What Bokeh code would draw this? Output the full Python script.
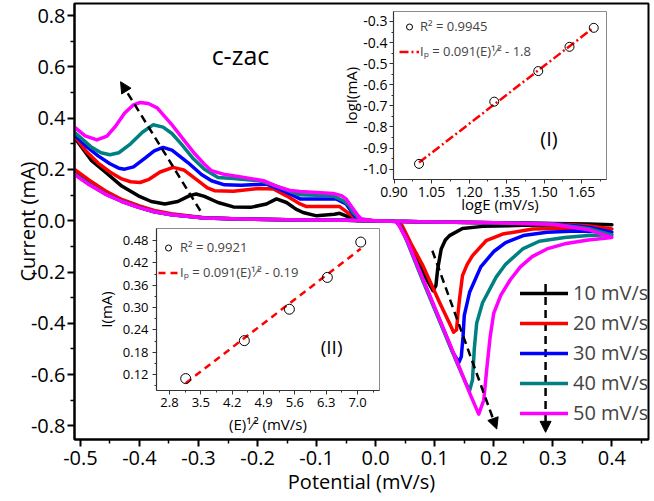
import numpy as np
from bokeh.plotting import figure
from bokeh.models import (Range1d, Legend, LegendItem, Arrow, NormalHead, Label,
                          GridBox, FixedTicker, NumeralTickFormatter)
from bokeh.embed import file_html
from bokeh.resources import INLINE

FONT = "Open Sans"

# ---------------- main CV data ----------------
scan_labels = ["10 mV/s", "20 mV/s", "30 mV/s", "40 mV/s", "50 mV/s"]
scan_colors = ["#000000", "#ff0000", "#0000ff", "#008080", "#ff00ff"]

# forward (lower) branches, left -> right, through the cathodic peak
fwd10_x = [-0.52, -0.51, -0.485, -0.458, -0.43, -0.402, -0.375, -0.346, -0.29, -0.228, -0.15, -0.05, 0.0, 0.03,
           0.038, 0.045, 0.063, 0.086, 0.097, 0.102, 0.105, 0.111, 0.118, 0.125, 0.147, 0.181, 0.25, 0.33, 0.40]
fwd10_y = [0.195, 0.185, 0.145, 0.107, 0.077, 0.054, 0.036, 0.024, 0.011, 0.007, 0.004, 0.002, 0.0, -0.002,
           -0.006, -0.03, -0.11, -0.227, -0.273, -0.253, -0.188, -0.110, -0.075, -0.058, -0.030, -0.022, -0.018, -0.016, -0.016]
fwd20_x = [-0.52, -0.51, -0.485, -0.458, -0.43, -0.40, -0.375, -0.346, -0.29, -0.228, -0.15, -0.05, 0.0, 0.03,
           0.038, 0.045, 0.06, 0.08, 0.108, 0.125, 0.132, 0.137, 0.139, 0.142, 0.147, 0.155, 0.164, 0.187, 0.215, 0.266, 0.33, 0.40]
fwd20_y = [0.21, 0.20, 0.158, 0.117, 0.083, 0.058, 0.04, 0.027, 0.012, 0.007, 0.004, 0.002, 0.0, -0.002,
           -0.004, -0.02, -0.09, -0.175, -0.318, -0.40, -0.435, -0.425, -0.37, -0.305, -0.214, -0.17, -0.136, -0.078, -0.052, -0.032, -0.028, -0.032]
fwd30_x = [-0.52, -0.51, -0.485, -0.458, -0.43, -0.402, -0.375, -0.346, -0.29, -0.228, -0.15, -0.05, 0.0, 0.03,
           0.036, 0.042, 0.052, 0.08, 0.108, 0.13, 0.141, 0.145, 0.148, 0.150, 0.159, 0.178, 0.20, 0.22, 0.25, 0.29, 0.34, 0.40]
fwd30_y = [0.192, 0.182, 0.142, 0.105, 0.076, 0.053, 0.035, 0.023, 0.0105, 0.0066, 0.004, 0.002, 0.0, -0.002,
           -0.004, -0.025, -0.07, -0.23, -0.385, -0.51, -0.552, -0.53, -0.45, -0.37, -0.279, -0.18, -0.12, -0.085, -0.058, -0.045, -0.04, -0.045]
fwd40_x = [-0.52, -0.51, -0.485, -0.458, -0.43, -0.402, -0.375, -0.346, -0.29, -0.228, -0.15, -0.05, 0.0, 0.03,
           0.035, 0.041, 0.052, 0.08, 0.108, 0.136, 0.152, 0.159, 0.164, 0.167, 0.171, 0.181, 0.204, 0.22, 0.249, 0.277, 0.32, 0.36, 0.40]
fwd40_y = [0.192, 0.182, 0.142, 0.105, 0.076, 0.053, 0.035, 0.023, 0.0105, 0.0066, 0.004, 0.002, 0.0, -0.002,
           -0.004, -0.02, -0.075, -0.235, -0.39, -0.545, -0.63, -0.663, -0.62, -0.50, -0.40, -0.32, -0.22, -0.17, -0.11, -0.08, -0.065, -0.058, -0.055]
fwd50_x = [-0.52, -0.51, -0.485, -0.458, -0.43, -0.402, -0.375, -0.346, -0.29, -0.228, -0.15, -0.05, 0.0, 0.03,
           0.034, 0.04, 0.052, 0.08, 0.108, 0.136, 0.161, 0.1745, 0.183, 0.188, 0.194, 0.200, 0.212, 0.228, 0.245, 0.265, 0.29, 0.32, 0.36, 0.40]
fwd50_y = [0.19, 0.18, 0.14, 0.104, 0.075, 0.052, 0.035, 0.023, 0.0105, 0.0066, 0.004, 0.002, 0.0, -0.002,
           -0.003, -0.02, -0.071, -0.227, -0.383, -0.539, -0.682, -0.754, -0.70, -0.58, -0.45, -0.36, -0.29, -0.23, -0.18, -0.14, -0.11, -0.09, -0.075, -0.065]

# reverse (upper) branches, written left -> right
rev10_x = [-0.52, -0.51, -0.481, -0.458, -0.43, -0.402, -0.38, -0.357, -0.335, -0.315, -0.304, -0.29, -0.267, -0.241, -0.21,
           -0.185, -0.168, -0.151, -0.135, -0.123, -0.10, -0.07, -0.061, -0.047, -0.033, 0.0, 0.05, 0.1, 0.2, 0.3, 0.36, 0.40]
rev10_y = [0.34, 0.325, 0.234, 0.19, 0.135, 0.097, 0.075, 0.065, 0.075, 0.098, 0.104, 0.095, 0.071, 0.054, 0.053,
           0.065, 0.085, 0.071, 0.045, 0.032, 0.019, 0.025, 0.029, 0.016, 0.0, -0.001, -0.003, -0.005, -0.008, -0.011, -0.013, -0.016]
rev20_x = [-0.52, -0.51, -0.49, -0.47, -0.45, -0.43, -0.415, -0.399, -0.385, -0.365, -0.343, -0.325, -0.301, -0.285, -0.273,
           -0.241, -0.196, -0.173, -0.151, -0.13, -0.117, -0.061, -0.044, -0.03, 0.0, 0.05, 0.1, 0.2, 0.3, 0.36, 0.40]
rev20_y = [0.345, 0.33, 0.27, 0.225, 0.19, 0.163, 0.152, 0.149, 0.16, 0.19, 0.208, 0.198, 0.156, 0.128, 0.117,
           0.115, 0.126, 0.124, 0.097, 0.068, 0.055, 0.055, 0.026, 0.004, -0.001, -0.003, -0.005, -0.008, -0.012, -0.02, -0.032]
rev30_x = [-0.52, -0.51, -0.49, -0.47, -0.45, -0.435, -0.425, -0.41, -0.39, -0.375, -0.36, -0.345, -0.318, -0.295, -0.278,
           -0.256, -0.228, -0.185, -0.157, -0.128, -0.067, -0.05, -0.036, -0.024, 0.0, 0.05, 0.1, 0.2, 0.3, 0.36, 0.40]
rev30_y = [0.35, 0.335, 0.29, 0.253, 0.222, 0.205, 0.201, 0.21, 0.245, 0.272, 0.286, 0.275, 0.227, 0.18, 0.156,
           0.14, 0.138, 0.143, 0.117, 0.085, 0.085, 0.065, 0.019, 0.004, -0.001, -0.003, -0.005, -0.008, -0.012, -0.025, -0.045]
rev40_x = [-0.52, -0.51, -0.481, -0.465, -0.45, -0.435, -0.415, -0.395, -0.377, -0.36, -0.345, -0.329, -0.31, -0.29, -0.267,
           -0.241, -0.196, -0.162, -0.14, -0.128, -0.072, -0.055, -0.045, -0.038, -0.027, 0.0, 0.05, 0.1, 0.2, 0.3, 0.36, 0.40]
rev40_y = [0.36, 0.345, 0.286, 0.265, 0.257, 0.265, 0.30, 0.345, 0.374, 0.365, 0.34, 0.299, 0.245, 0.201, 0.169,
           0.165, 0.156, 0.130, 0.11, 0.101, 0.097, 0.078, 0.06, 0.032, 0.007, -0.001, -0.003, -0.005, -0.008, -0.013, -0.03, -0.055]
rev50_x = [-0.52, -0.51, -0.492, -0.472, -0.455, -0.44, -0.425, -0.41, -0.399, -0.385, -0.37, -0.346, -0.325, -0.306, -0.29,
           -0.278, -0.255, -0.228, -0.19, -0.165, -0.145, -0.128, -0.072, -0.058, -0.05, -0.038, -0.03, -0.024, 0.0, 0.05,
           0.1, 0.2, 0.3, 0.36, 0.40]
rev50_y = [0.385, 0.365, 0.331, 0.315, 0.33, 0.37, 0.42, 0.452, 0.461, 0.457, 0.44, 0.377, 0.315, 0.26, 0.22,
           0.195, 0.18, 0.171, 0.156, 0.132, 0.118, 0.114, 0.106, 0.098, 0.085, 0.046, 0.02, 0.007, -0.001, -0.003,
           -0.005, -0.008, -0.014, -0.035, -0.065]

main_x_ticks = [-0.5, -0.4, -0.3, -0.2, -0.1, 0.0, 0.1, 0.2, 0.3, 0.4]
main_x_minor = [-0.45, -0.35, -0.25, -0.15, -0.05, 0.05, 0.15, 0.25, 0.35, 0.45]
main_y_ticks = [-0.8, -0.6, -0.4, -0.2, 0.0, 0.2, 0.4, 0.6, 0.8]
main_y_minor = [-0.7, -0.5, -0.3, -0.1, 0.1, 0.3, 0.5, 0.7]

# arrows (start x, start y, end x, end y)
arrow_anodic = [-0.297, 0.039, -0.432, 0.542]
arrow_cathodic = [0.096, -0.117, 0.205, -0.812]
arrow_legend = [0.2877, -0.247, 0.2877, -0.825]

# ---------------- inset (I) data ----------------
logE = [1.0, 1.301, 1.477, 1.602, 1.699]
logI = [-0.975, -0.68, -0.535, -0.42, -0.33]
ins1_x_ticks = [0.90, 1.05, 1.20, 1.35, 1.50, 1.65]
ins1_x_minor = [0.975, 1.125, 1.275, 1.425, 1.575, 1.725]
ins1_y_ticks = [-1.0, -0.9, -0.8, -0.7, -0.6, -0.5, -0.4, -0.3]
ins1_y_minor = [-0.95, -0.85, -0.75, -0.65, -0.55, -0.45, -0.35, -0.25]

# ---------------- inset (II) data ----------------
sqrtE = [3.162, 4.472, 5.477, 6.325, 7.071]
Ipk = [0.109, 0.211, 0.2955, 0.381, 0.476]
ins2_x_ticks = [2.8, 3.5, 4.2, 4.9, 5.6, 6.3, 7.0]
ins2_x_minor = [3.15, 3.85, 4.55, 5.25, 5.95, 6.65, 7.35]
ins2_y_ticks = [0.12, 0.18, 0.24, 0.30, 0.36, 0.42, 0.48]
ins2_y_minor = [0.09, 0.15, 0.21, 0.27, 0.33, 0.39, 0.45]

# ================= main figure =================
p = figure(frame_width=574, frame_height=436, x_range=Range1d(-0.51, 0.462), y_range=Range1d(-0.853, 0.847),
           output_backend="svg", toolbar_location=None,
           min_border_left=71, min_border_right=9, min_border_top=3, min_border_bottom=61)
p.grid.visible = False
p.outline_line_color = "black"
p.outline_line_width = 2
p.outline_line_alpha = 1

p.xaxis.axis_label = "Potential (mV/s)"
p.yaxis.axis_label = "Current (mA)"
p.xaxis.ticker = FixedTicker(ticks=main_x_ticks, minor_ticks=main_x_minor)
p.yaxis.ticker = FixedTicker(ticks=main_y_ticks, minor_ticks=main_y_minor)
for ax in p.axis:
    ax.formatter = NumeralTickFormatter(format="0.0")
    ax.axis_line_width = 2
    ax.major_tick_line_width = 2
    ax.minor_tick_line_width = 1.5
    ax.major_tick_out = 7
    ax.major_tick_in = 0
    ax.minor_tick_out = 4
    ax.minor_tick_in = 0
    ax.major_label_text_font = FONT
    ax.major_label_text_font_size = "20px"
    ax.major_label_text_color = "black"
    ax.axis_label_text_font = FONT
    ax.axis_label_text_font_size = "20px"
    ax.axis_label_text_font_style = "normal"
    ax.axis_label_text_color = "black"
p.xaxis.major_label_standoff = 4
p.xaxis.axis_label_standoff = 0
p.yaxis.major_label_standoff = 2
p.yaxis.axis_label_standoff = -13

fwd = [(fwd10_x, fwd10_y), (fwd20_x, fwd20_y), (fwd30_x, fwd30_y), (fwd40_x, fwd40_y), (fwd50_x, fwd50_y)]
rev = [(rev10_x, rev10_y), (rev20_x, rev20_y), (rev30_x, rev30_y), (rev40_x, rev40_y), (rev50_x, rev50_y)]
renderers = []
for (fx, fy), (rx, ry), col in zip(fwd, rev, scan_colors):
    xs = list(fx) + list(rx)[::-1]
    ys = list(fy) + list(ry)[::-1]
    r = p.line(xs, ys, line_color=col, line_width=3.5, line_join="round", line_cap="round")
    renderers.append(r)

legend = Legend(items=[LegendItem(label=lab, renderers=[r]) for lab, r in zip(scan_labels, renderers)],
                location=(446, 13), padding=0, margin=0, spacing=3, glyph_width=48, glyph_height=26,
                label_height=26, label_standoff=5, label_text_font=FONT, label_text_font_size="20px",
                border_line_alpha=0, background_fill_alpha=0)
p.add_layout(legend)

for a in (arrow_anodic, arrow_cathodic, arrow_legend):
    p.add_layout(Arrow(end=NormalHead(size=11, fill_color="black", line_color="black", line_width=1),
                       x_start=a[0], y_start=a[1], x_end=a[2], y_end=a[3],
                       line_color="black", line_width=2.5, line_dash="8 5"))

p.add_layout(Label(x=-0.229, y=0.645, text="c-zac", text_align="center", text_baseline="middle",
                   text_font=FONT, text_font_size="25px", text_color="black"))


def style_inset(f, tick_px, label_px):
    f.grid.visible = False
    f.outline_line_color = "#8a8a8a"
    f.outline_line_width = 1
    f.border_fill_color = None
    f.background_fill_color = "white"
    for ax in f.axis:
        ax.axis_line_color = "#333333"
        ax.axis_line_width = 1.2
        ax.major_tick_line_color = "#333333"
        ax.minor_tick_line_color = "#333333"
        ax.major_tick_out = 4
        ax.major_tick_in = 0
        ax.minor_tick_out = 2
        ax.minor_tick_in = 0
        ax.major_label_text_font = FONT
        ax.major_label_text_font_size = tick_px
        ax.major_label_text_color = "black"
        ax.axis_label_text_font = FONT
        ax.axis_label_text_font_size = label_px
        ax.axis_label_text_font_style = "normal"
        ax.axis_label_text_color = "black"


# ================= inset (I) =================
i1 = figure(frame_width=213, frame_height=168, x_range=Range1d(0.898, 1.75), y_range=Range1d(-1.049, -0.2526),
            output_backend="svg", toolbar_location=None,
            min_border_left=72, min_border_right=4, min_border_top=1, min_border_bottom=45)
i1.styles = {"position": "relative", "left": "319px", "top": "8px"}
style_inset(i1, "14px", "15px")
i1.xaxis.ticker = FixedTicker(ticks=ins1_x_ticks, minor_ticks=ins1_x_minor)
i1.yaxis.ticker = FixedTicker(ticks=ins1_y_ticks, minor_ticks=ins1_y_minor)
i1.xaxis.formatter = NumeralTickFormatter(format="0.00")
i1.yaxis.formatter = NumeralTickFormatter(format="0.0")
i1.xaxis.axis_label = "logE (mV/s)"
i1.yaxis.axis_label = "logI(mA)"
i1.xaxis.major_label_standoff = 3
i1.xaxis.axis_label_standoff = -6
i1.yaxis.major_label_standoff = 2
i1.yaxis.axis_label_standoff = -1

s1, c1 = np.polyfit(logE, logI, 1)
fit1_x = [logE[0], logE[-1]]
fit1_y = [s1 * v + c1 for v in fit1_x]
f1 = i1.line(fit1_x, fit1_y, line_color="#ff0000", line_width=2.5, line_dash="9 3 2 3")
c1r = i1.scatter(logE, logI, marker="circle", size=9, fill_color=None, line_color="black", line_width=1)
i1.add_layout(Legend(items=[LegendItem(label="R² = 0.9945", renderers=[c1r]),
                            LegendItem(label="Iₚ = 0.091(E)¹⁄² - 1.8", renderers=[f1])],
                     location=(6, 117), padding=0, margin=0, spacing=3, glyph_width=20, glyph_height=15,
                     label_height=22, label_standoff=1, label_text_font=FONT, label_text_font_size="13px",
                     border_line_alpha=0, background_fill_alpha=0))
i1.add_layout(Label(x=1.52, y=-0.855, text="(I)", text_align="center", text_baseline="middle",
                    text_font=FONT, text_font_size="20px", text_color="black"))

# ================= inset (II) =================
i2 = figure(frame_width=223, frame_height=162, x_range=Range1d(2.51, 7.49), y_range=Range1d(0.077, 0.5125),
            output_backend="svg", toolbar_location=None,
            min_border_left=74, min_border_right=4, min_border_top=3, min_border_bottom=52)
i2.styles = {"position": "relative", "left": "82px", "top": "225px"}
style_inset(i2, "13px", "15px")
i2.xaxis.ticker = FixedTicker(ticks=ins2_x_ticks, minor_ticks=ins2_x_minor)
i2.yaxis.ticker = FixedTicker(ticks=ins2_y_ticks, minor_ticks=ins2_y_minor)
i2.xaxis.formatter = NumeralTickFormatter(format="0.0")
i2.yaxis.formatter = NumeralTickFormatter(format="0.00")
i2.xaxis.axis_label = "(E)¹⁄² (mV/s)"
i2.yaxis.axis_label = "I(mA)"
i2.xaxis.major_label_standoff = 3
i2.xaxis.axis_label_standoff = 4
i2.yaxis.major_label_standoff = 4
i2.yaxis.axis_label_standoff = 4

s2, c2 = np.polyfit(sqrtE, Ipk, 1)
fit2_x = [sqrtE[0], sqrtE[-1]]
fit2_y = [s2 * v + c2 for v in fit2_x]
f2 = i2.line(fit2_x, fit2_y, line_color="#ff0000", line_width=2.5, line_dash="7 5")
c2r = i2.scatter(sqrtE, Ipk, marker="circle", size=10, fill_color=None, line_color="black", line_width=1)
i2.add_layout(Legend(items=[LegendItem(label="R² = 0.9921", renderers=[c2r]),
                            LegendItem(label="Iₚ = 0.091(E)¹⁄² - 0.19", renderers=[f2])],
                     location=(2, 107), padding=0, margin=0, spacing=3, glyph_width=20, glyph_height=15,
                     label_height=22, label_standoff=2, label_text_font=FONT, label_text_font_size="13px",
                     border_line_alpha=0, background_fill_alpha=0))
i2.add_layout(Label(x=6.42, y=0.193, text="(II)", text_align="center", text_baseline="middle",
                    text_font=FONT, text_font_size="19px", text_color="black"))

layout = GridBox(children=[(p, 0, 0), (i1, 0, 0), (i2, 0, 0)])

open("out.html", "w").write(file_html(layout, INLINE))
